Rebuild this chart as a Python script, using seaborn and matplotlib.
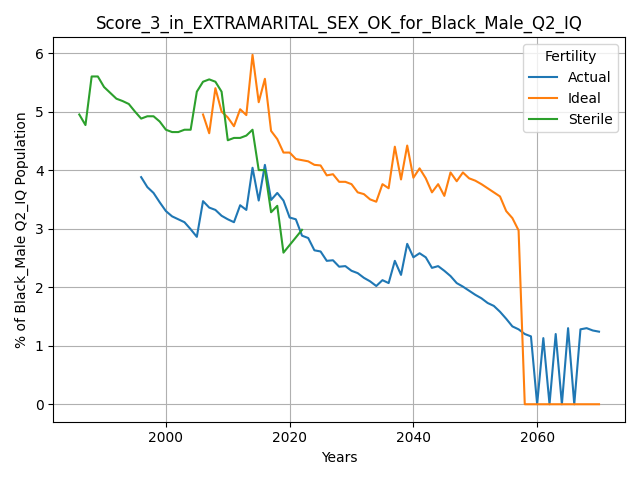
import pandas as pd
import matplotlib
matplotlib.use('Agg')
import matplotlib.pyplot as plt
import seaborn as sns

sterile_years = list(range(1986, 2023))
sterile_vals = [4.95, 4.77, 5.6, 5.6, 5.42, 5.32, 5.22, 5.18, 5.13, 5.0, 4.88, 4.92, 4.92,
                4.83, 4.69, 4.65, 4.65, 4.69, 4.69, 5.34, 5.51, 5.55, 5.51, 5.34, 4.51, 4.55,
                4.55, 4.59, 4.69, 4.0, 4.0, 3.28, 3.39, 2.59, 2.72, 2.85, 2.98]

actual_years = list(range(1996, 2071))
actual_vals = [3.88, 3.71, 3.61, 3.45, 3.30, 3.21, 3.16, 3.11, 2.99, 2.86, 3.47, 3.36, 3.32,
               3.22, 3.16, 3.11, 3.40, 3.32, 4.04, 3.48, 4.09, 3.49, 3.61, 3.48, 3.19, 3.16,
               2.88, 2.84, 2.63, 2.61, 2.45, 2.46, 2.35, 2.36, 2.28, 2.24, 2.16, 2.10, 2.02,
               2.12, 2.07, 2.45, 2.21, 2.74, 2.51, 2.58, 2.51, 2.33, 2.36, 2.28, 2.19, 2.07,
               2.01, 1.94, 1.87, 1.81, 1.73, 1.68, 1.58, 1.46, 1.33, 1.28, 1.20, 1.16, 0,
               1.13, 0, 1.20, 0, 1.30, 0, 1.28, 1.30, 1.26, 1.24]

ideal_years = list(range(2006, 2071))
ideal_vals = [4.95, 4.63, 5.40, 5.00, 4.90, 4.75, 5.04, 4.94, 5.97, 5.16, 5.56, 4.67, 4.53,
              4.30, 4.30, 4.19, 4.17, 4.15, 4.09, 4.08, 3.91, 3.93, 3.80, 3.80, 3.76, 3.62,
              3.59, 3.50, 3.46, 3.76, 3.69, 4.40, 3.84, 4.42, 3.87, 4.03, 3.86, 3.62, 3.76,
              3.56, 3.96, 3.81, 3.96, 3.86, 3.82, 3.76, 3.69, 3.62, 3.55, 3.30, 3.18, 2.97,
              0, 0, 0, 0, 0, 0, 0, 0, 0, 0, 0, 0, 0]

df = pd.concat([
    pd.DataFrame({'Years': actual_years, 'val': actual_vals, 'Fertility': 'Actual'}),
    pd.DataFrame({'Years': ideal_years, 'val': ideal_vals, 'Fertility': 'Ideal'}),
    pd.DataFrame({'Years': sterile_years, 'val': sterile_vals, 'Fertility': 'Sterile'}),
])

fig, ax = plt.subplots(figsize=(6.4, 4.8), dpi=100)
sns.lineplot(data=df, x='Years', y='val', hue='Fertility', ax=ax,
             palette=['#1f77b4', '#ff7f0e', '#2ca02c'])
ax.grid(True, color='#b0b0b0')
ax.set_title('Score_3_in_EXTRAMARITAL_SEX_OK_for_Black_Male_Q2_IQ')
ax.set_ylabel('% of Black_Male Q2_IQ Population')
ax.set_xlabel('Years')
fig.tight_layout()
fig.savefig('out.png')
